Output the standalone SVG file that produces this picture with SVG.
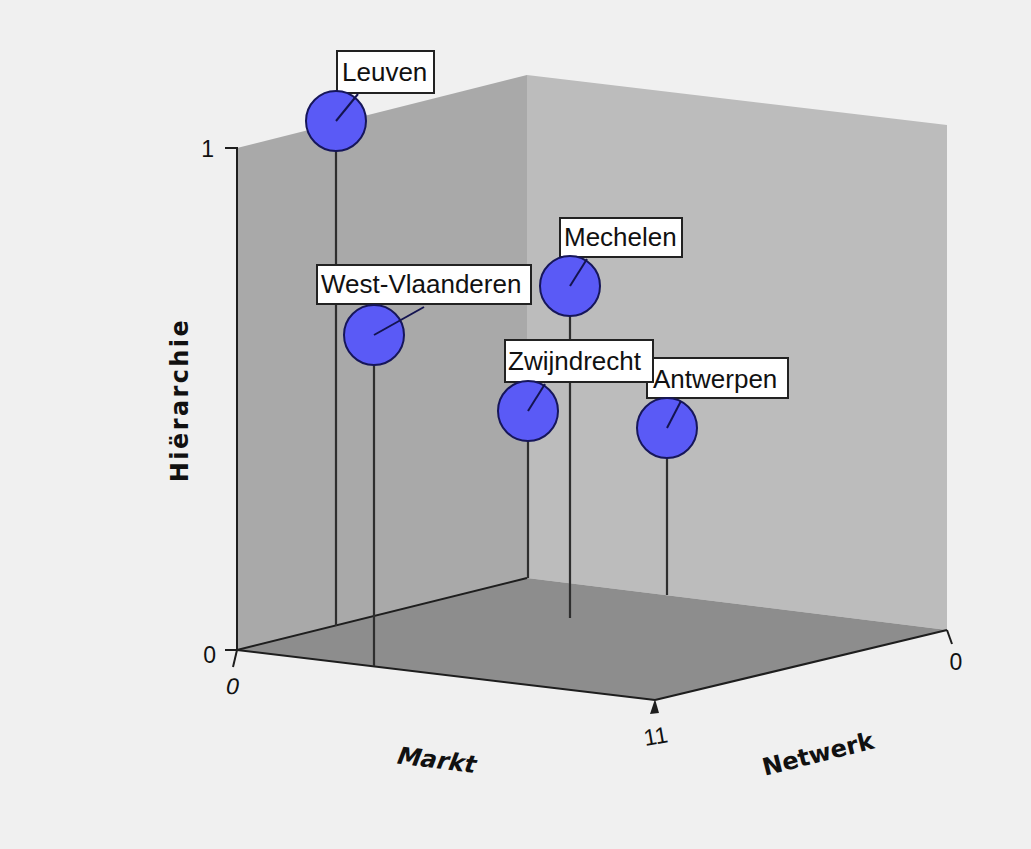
<svg xmlns="http://www.w3.org/2000/svg" width="1031" height="849" viewBox="0 0 1031 849">
  <style>
    .wall-l { fill: #a9a9a9; }
    .wall-r { fill: #bcbcbc; }
    .floor { fill: #8d8d8d; }
    .axis { stroke: #1e1e1e; stroke-width: 2; fill: none; }
    .tick { font-family: "Liberation Sans", Arial, sans-serif; font-size: 23px; fill: #111; }
    .title { font-family: "DejaVu Sans", Verdana, sans-serif; font-weight: bold; font-size: 24px; fill: #111; }
    .drop { stroke: #2e2e2e; stroke-width: 2.2; }
    .leader { stroke: #141450; stroke-width: 2; }
    .bubble { fill: #5a5af6; stroke: #16165a; stroke-width: 2; }
    .tag { fill: #ffffff; stroke: #222; stroke-width: 2; }
    .tag-text { font-family: "Liberation Sans", Arial, sans-serif; font-size: 26px; fill: #111; }
  </style>

  <rect x="0" y="0" width="1031" height="849" fill="#f0f0f0"/>

  <!-- 3D box: back walls and floor -->
  <g id="box">
    <polygon class="wall-l" points="237,148 527,75 527,578 237,650"/>
    <polygon class="wall-r" points="527,75 947,125 947,630 527,578"/>
    <polygon class="floor" points="237,650 527,578 947,630 655,700"/>
  </g>

  <!-- axes, ticks and titles -->
  <g id="axes">
    <polyline class="axis" points="225,148 237,148 237,650 225,650"/>
    <line class="axis" x1="237" y1="650" x2="527" y2="578"/>
    <line class="axis" x1="237" y1="650" x2="655" y2="700"/>
    <line class="axis" x1="655" y1="700" x2="947" y2="630"/>
    <line class="axis" x1="237" y1="650" x2="233" y2="667"/>
    <line class="axis" x1="947" y1="630" x2="952" y2="644"/>
    <polygon points="655,699 650,714 659,713" fill="#1e1e1e"/>
    <text class="tick" x="214" y="157" text-anchor="end">1</text>
    <text class="tick" x="216" y="663" text-anchor="end">0</text>
    <text class="tick" x="0" y="0" text-anchor="middle" transform="translate(231 694) rotate(7) skewX(-6)">0</text>
    <text class="tick" x="0" y="0" text-anchor="middle" transform="translate(657 744) rotate(-10)">11</text>
    <text class="tick" x="956" y="670" text-anchor="middle">0</text>
    <text class="title" x="0" y="0" text-anchor="middle" letter-spacing="2.4" transform="translate(188 400) rotate(-90)">Hiërarchie</text>
    <text class="title" x="0" y="0" text-anchor="middle" transform="translate(434 768) rotate(7) skewX(-14)">Markt</text>
    <text class="title" x="0" y="0" text-anchor="middle" transform="translate(820 762) rotate(-14)">Netwerk</text>
  </g>

  <!-- drop lines from each point to the floor -->
  <g id="connectors">
    <line class="drop" x1="336" y1="150" x2="336" y2="626"/>
    <line class="drop" x1="374" y1="364" x2="374" y2="666"/>
    <line class="drop" x1="570" y1="315" x2="570" y2="618"/>
    <line class="drop" x1="528" y1="440" x2="528" y2="578"/>
    <line class="drop" x1="667" y1="458" x2="667" y2="595"/>
  </g>

  <g id="node-leuven">
    <rect class="tag" x="337" y="51" width="97" height="42"/>
    <text class="tag-text" x="342" y="81">Leuven</text>
    <circle class="bubble" cx="336" cy="121" r="30"/>
    <line class="leader" x1="336" y1="121" x2="358" y2="94"/>
  </g>

  <g id="node-west-vlaanderen">
    <rect class="tag" x="317" y="265" width="214" height="39"/>
    <text class="tag-text" x="321" y="293">West-Vlaanderen</text>
    <circle class="bubble" cx="374" cy="335" r="30"/>
    <line class="leader" x1="374" y1="335" x2="424" y2="307"/>
  </g>

  <g id="node-mechelen">
    <rect class="tag" x="560" y="218" width="122" height="39"/>
    <text class="tag-text" x="564" y="246">Mechelen</text>
    <circle class="bubble" cx="570" cy="286" r="30"/>
    <line class="leader" x1="570" y1="286" x2="587" y2="259"/>
  </g>

  <g id="node-antwerpen">
    <rect class="tag" x="647" y="358" width="141" height="40"/>
    <text class="tag-text" x="653" y="388">Antwerpen</text>
    <circle class="bubble" cx="667" cy="428" r="30"/>
    <line class="leader" x1="667" y1="428" x2="681" y2="401"/>
  </g>

  <g id="node-zwijndrecht">
    <rect class="tag" x="505" y="340" width="148" height="42"/>
    <text class="tag-text" x="508" y="370">Zwijndrecht</text>
    <circle class="bubble" cx="528" cy="411" r="30"/>
    <line class="leader" x1="528" y1="411" x2="545" y2="384"/>
  </g>
</svg>
